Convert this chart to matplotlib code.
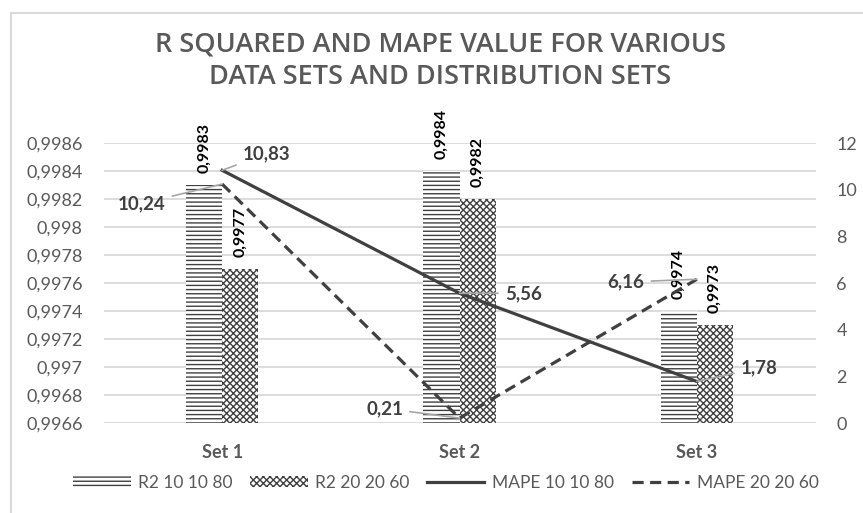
import matplotlib
matplotlib.use("Agg")
import matplotlib.pyplot as plt
import numpy as np
from matplotlib.patches import Patch, Rectangle
from matplotlib.lines import Line2D

sets = ['Set 1', 'Set 2', 'Set 3']
r2_10_10_80 = [0.9983, 0.9984, 0.9974]
r2_20_20_60 = [0.9977, 0.9982, 0.9973]
mape_10_10_80 = [10.83, 5.56, 1.78]
mape_20_20_60 = [10.24, 0.21, 6.16]

# label offsets (points) for the line data labels
off_10 = [(32, 12), (46, 0), (45, 10)]
off_20 = [(-58, -14), (-54, 7), (-51, -2)]

GRAY = '#595959'
DARK = '#404040'
plt.rcParams['font.family'] = ['Lato', 'DejaVu Sans']
plt.rcParams['hatch.linewidth'] = 1.0

fig = plt.figure(figsize=(8.63, 5.13), dpi=100)
W, H = 863, 513
ax = fig.add_axes([103.5 / W, (H - 423) / H, (815.5 - 103.5) / W, (423 - 143) / H])
ax2 = ax.twinx()

# chart border (only top/left visible in the crop)
fig.patches.append(Rectangle((11 / W, -0.2), 2, (H - 13) / H + 0.2, transform=fig.transFigure,
                             fill=False, edgecolor='#d9d9d9', linewidth=1.5))

x = np.arange(len(sets))
w = 0.152
ymin = 0.9966
HATCH1 = '----'
HATCH2 = 'xxxxx'
b1 = ax.bar(x - w / 2, np.array(r2_10_10_80) - ymin, w, bottom=ymin, color='white',
            edgecolor=DARK, linewidth=0, hatch=HATCH1, zorder=2)
b2 = ax.bar(x + w / 2, np.array(r2_20_20_60) - ymin, w, bottom=ymin, color='white',
            edgecolor=DARK, linewidth=0, hatch=HATCH2, zorder=2)

for rects, vals in [(b1, r2_10_10_80), (b2, r2_20_20_60)]:
    for r, v in zip(rects, vals):
        ax.annotate(('%.4f' % v).replace('.', ','), xy=(r.get_x() + r.get_width() / 2, v),
                    xytext=(0, 8.5), textcoords='offset points', rotation=90,
                    ha='center', va='bottom', fontsize=11.5, fontweight='bold', color='black')

ax.set_ylim(0.9966, 0.9986)
ax.set_yticks(np.linspace(0.9966, 0.9986, 11))
ax.set_yticklabels([('%.4f' % t).rstrip('0').replace('.', ',') for t in np.linspace(0.9966, 0.9986, 11)])
ax.set_xlim(-0.5, 2.5)
ax.set_xticks(x)
ax.set_xticklabels(sets, fontweight='bold')
ax.grid(axis='y', color='#d9d9d9', linewidth=1.3, zorder=0)
ax.set_axisbelow(True)
ax.tick_params(axis='y', length=0, pad=15, labelsize=13, labelcolor=GRAY)
ax.tick_params(axis='x', length=0, pad=15, labelsize=13, labelcolor=GRAY)

ax2.plot(x, mape_10_10_80, color=DARK, linewidth=2.3, zorder=3)
ax2.plot(x, mape_20_20_60, color=DARK, linewidth=2.3, linestyle=(0, (3.5, 2)), zorder=3)
ax2.set_ylim(0, 12)
ax2.set_yticks(range(0, 13, 2))
ax2.tick_params(axis='y', length=0, pad=15, labelsize=13, labelcolor=GRAY)

for vals, offs in [(mape_10_10_80, off_10), (mape_20_20_60, off_20)]:
    for xi, v, o in zip(x, vals, offs):
        ax2.annotate(('%.2f' % v).replace('.', ','), xy=(xi, v), xytext=o,
                     textcoords='offset points', ha='center', va='center',
                     fontsize=13.5, fontweight='bold', color=DARK,
                     arrowprops=dict(arrowstyle='-', color='#a6a6a6', lw=1.2,
                                     shrinkA=3, shrinkB=0))

for a in (ax, ax2):
    for s in a.spines.values():
        s.set_visible(False)

fig.text(440 / W, 1 - 45 / H, 'R SQUARED AND MAPE VALUE FOR VARIOUS', ha='center', va='center',
         fontsize=19.5, color=GRAY, family=['Open Sans', 'DejaVu Sans'], fontweight='semibold')
fig.text(440 / W, 1 - 77 / H, 'DATA SETS AND DISTRIBUTION SETS', ha='center', va='center',
         fontsize=19.5, color=GRAY, family=['Open Sans', 'DejaVu Sans'], fontweight='semibold')

handles = [Patch(facecolor='white', edgecolor=DARK, linewidth=0, hatch=HATCH1),
           Patch(facecolor='white', edgecolor=DARK, linewidth=0, hatch=HATCH2),
           Line2D([], [], color=DARK, linewidth=2.3),
           Line2D([], [], color=DARK, linewidth=2.3, linestyle=(0, (3.5, 2)))]
labels = ['R2 10 10 80', 'R2 20 20 60', 'MAPE 10 10 80', 'MAPE 20 20 60']
leg = fig.legend(handles, labels, loc='center', bbox_to_anchor=(446 / W, 1 - 483 / H), ncol=4,
                 frameon=False, fontsize=12.5, handlelength=3.3, handleheight=0.6,
                 handletextpad=0.45, columnspacing=1.0, labelcolor=GRAY)

fig.savefig('out.png', dpi=100)
